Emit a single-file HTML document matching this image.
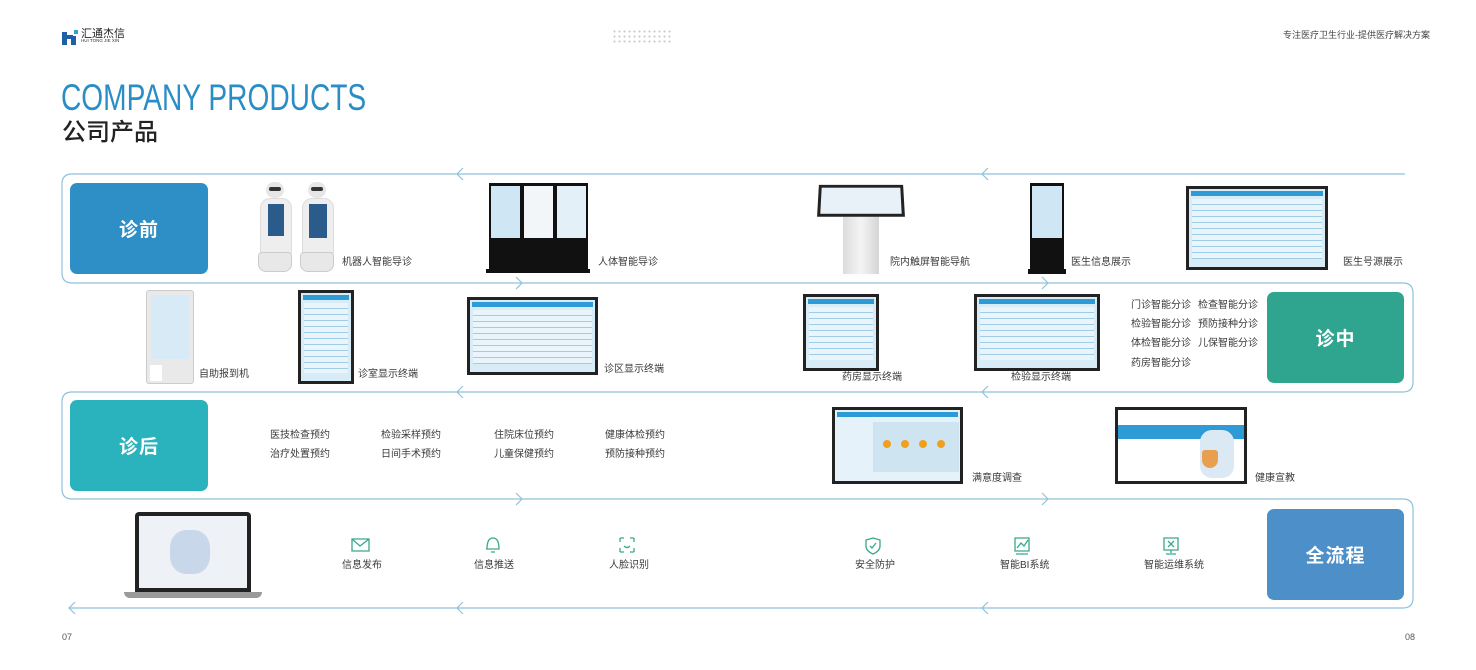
<!DOCTYPE html>
<html><head><meta charset="utf-8">
<style>
*{margin:0;padding:0;box-sizing:border-box}
body{width:1476px;height:670px;background:#fff;position:relative;overflow:hidden;font-family:"Liberation Sans","Noto Sans CJK SC",sans-serif;color:#333}
.a{position:absolute}
.t{position:absolute;font-size:10px;line-height:14px;color:#3a3a3a;white-space:nowrap}
.box{position:absolute;border-radius:7px;color:#fff;font-size:19px;font-weight:bold;display:flex;align-items:center;justify-content:center;letter-spacing:1px}
.scr{position:absolute;border:3px solid #222;background:#d8ecf7}
.scr i{position:absolute;left:2px;right:2px;top:2px;height:5px;background:#2e9ad6;display:block}
.rows{position:absolute;left:3px;right:3px;top:10px;bottom:8px;background:repeating-linear-gradient(#eaf5fb 0 5px,#9fcde8 5px 6px)}
</style></head><body>

<div class="a" style="left:62px;top:30px;width:16px;height:15px">
 <div class="a" style="left:0;top:2px;width:5px;height:13px;background:#1f5fa8"></div>
 <div class="a" style="left:9px;top:6px;width:5px;height:9px;background:#1f5fa8"></div>
 <div class="a" style="left:4px;top:5px;width:7px;height:4px;background:#1f5fa8"></div>
 <div class="a" style="left:12px;top:0;width:4px;height:4px;background:#29a3d8"></div>
</div>
<div class="t" style="left:81px;top:27px;font-size:11px;color:#222">汇通杰信</div>
<div class="t" style="left:81px;top:38px;font-size:4.5px;line-height:6px;color:#333">HUI TONG JIE XIN</div>
<div class="a" style="left:612px;top:29px;width:61px;height:14px;background-image:radial-gradient(circle,#bbb 0.9px,transparent 1.2px);background-size:5px 5px;opacity:.8"></div>
<div class="t" style="left:1283px;top:28px;font-size:9px;color:#444">专注医疗卫生行业-提供医疗解决方案</div>

<div class="t" style="left:61px;top:77px;font-size:37px;line-height:42px;color:#2b8dc5;transform:scaleX(0.76);transform-origin:0 0">COMPANY PRODUCTS</div>
<div class="t" style="left:62px;top:118px;font-size:24px;line-height:30px;color:#222;font-weight:500">公司产品</div>

<svg class="a" style="left:0;top:0" width="1476" height="670">
 <g fill="none" stroke="#8fc2d8" stroke-width="1.2">
  <path d="M1405 174 H72 Q62 174 62 184 V273 Q62 283 72 283 H1403 Q1413 283 1413 293 V382 Q1413 392 1403 392 H72 Q62 392 62 402 V489 Q62 499 72 499 H1403 Q1413 499 1413 509 V598 Q1413 608 1403 608 H70"/>
  <path d="M463 168 L457 174 L463 180 M988 168 L982 174 L988 180"/>
  <path d="M516 277 L522 283 L516 289 M1042 277 L1048 283 L1042 289"/>
  <path d="M463 386 L457 392 L463 398 M988 386 L982 392 L988 398"/>
  <path d="M516 493 L522 499 L516 505 M1042 493 L1048 499 L1042 505"/>
  <path d="M75 602 L69 608 L75 614 M463 602 L457 608 L463 614 M988 602 L982 608 L988 614"/>
 </g>
</svg>

<div class="box" style="left:70px;top:183px;width:138px;height:91px;background:#2e8fc6">诊前</div>
<div class="box" style="left:1267px;top:292px;width:137px;height:91px;background:#2fa58f">诊中</div>
<div class="box" style="left:70px;top:400px;width:138px;height:91px;background:#2ab3bd">诊后</div>
<div class="box" style="left:1267px;top:509px;width:137px;height:91px;background:#4d8fc8">全流程</div>

<div class="a" style="left:258px;top:182px;width:36px;height:92px">
 <div class="a" style="left:8px;top:0;width:18px;height:16px;background:#e6e6e6;border-radius:8px"></div>
 <div class="a" style="left:11px;top:5px;width:12px;height:4px;background:#333;border-radius:2px"></div>
 <div class="a" style="left:2px;top:16px;width:32px;height:56px;background:#eee;border-radius:10px 10px 2px 2px;border:1px solid #ddd"></div>
 <div class="a" style="left:10px;top:22px;width:16px;height:32px;background:#2b5b8a"></div>
 <div class="a" style="left:0;top:70px;width:34px;height:20px;background:#e8e8e8;border-radius:4px 4px 8px 8px;border:1px solid #ccc"></div>
</div>
<div class="a" style="left:300px;top:182px;width:36px;height:92px">
 <div class="a" style="left:8px;top:0;width:18px;height:16px;background:#e6e6e6;border-radius:8px"></div>
 <div class="a" style="left:11px;top:5px;width:12px;height:4px;background:#333;border-radius:2px"></div>
 <div class="a" style="left:2px;top:16px;width:32px;height:56px;background:#eee;border-radius:10px 10px 2px 2px;border:1px solid #ddd"></div>
 <div class="a" style="left:9px;top:22px;width:18px;height:34px;background:#2b5b8a"></div>
 <div class="a" style="left:0;top:70px;width:34px;height:20px;background:#e8e8e8;border-radius:4px 4px 8px 8px;border:1px solid #ccc"></div>
</div>
<div class="t" style="left:342px;top:256px">机器人智能导诊</div>

<div class="a" style="left:489px;top:183px;width:33px;height:90px;background:#111"><div class="a" style="left:2px;top:3px;width:29px;height:52px;background:#cfe6f4"></div></div>
<div class="a" style="left:522px;top:183px;width:33px;height:90px;background:#111"><div class="a" style="left:2px;top:3px;width:29px;height:52px;background:#f2f6f9"></div></div>
<div class="a" style="left:555px;top:183px;width:33px;height:90px;background:#111"><div class="a" style="left:2px;top:3px;width:29px;height:52px;background:#e4f0f8"></div></div>
<div class="a" style="left:486px;top:269px;width:104px;height:4px;background:#111"></div>
<div class="t" style="left:598px;top:256px">人体智能导诊</div>

<div class="a" style="left:843px;top:214px;width:36px;height:60px;background:linear-gradient(90deg,#dcdcdc,#f4f4f4,#d5d5d5)"></div>
<div class="a" style="left:818px;top:184px;width:86px;height:33px;background:#222;transform:perspective(200px) rotateX(15deg)"><div class="a" style="left:3px;top:3px;right:3px;bottom:3px;background:#e9f1f8"></div></div>
<div class="t" style="left:890px;top:256px">院内触屏智能导航</div>

<div class="a" style="left:1030px;top:183px;width:34px;height:90px;background:#111"><div class="a" style="left:2px;top:3px;width:30px;height:52px;background:#cfe6f4"></div></div>
<div class="a" style="left:1028px;top:269px;width:38px;height:5px;background:#111"></div>
<div class="t" style="left:1071px;top:256px">医生信息展示</div>

<div class="scr" style="left:1186px;top:186px;width:142px;height:84px"><i></i><div class="rows"></div></div>
<div class="t" style="left:1343px;top:256px">医生号源展示</div>

<div class="a" style="left:146px;top:290px;width:48px;height:94px;background:#e9e9e9;border:1px solid #ccc;border-radius:3px"><div class="a" style="left:4px;top:4px;width:38px;height:64px;background:#d7eaf6"></div><div class="a" style="left:3px;top:74px;width:12px;height:16px;background:#fff"></div></div>
<div class="t" style="left:199px;top:368px">自助报到机</div>
<div class="scr" style="left:298px;top:290px;width:56px;height:94px"><i></i><div class="rows"></div></div>
<div class="t" style="left:358px;top:368px">诊室显示终端</div>
<div class="scr" style="left:467px;top:297px;width:131px;height:78px"><i></i><div class="rows"></div></div>
<div class="t" style="left:604px;top:363px">诊区显示终端</div>
<div class="scr" style="left:803px;top:294px;width:76px;height:77px"><i></i><div class="rows"></div></div>
<div class="t" style="left:842px;top:371px">药房显示终端</div>
<div class="scr" style="left:974px;top:294px;width:126px;height:77px"><i></i><div class="rows"></div></div>
<div class="t" style="left:1011px;top:371px">检验显示终端</div>

<div class="t" style="left:1131px;top:299px">门诊智能分诊</div>
<div class="t" style="left:1198px;top:299px">检查智能分诊</div>
<div class="t" style="left:1131px;top:318px">检验智能分诊</div>
<div class="t" style="left:1198px;top:318px">预防接种分诊</div>
<div class="t" style="left:1131px;top:337px">体检智能分诊</div>
<div class="t" style="left:1198px;top:337px">儿保智能分诊</div>
<div class="t" style="left:1131px;top:357px">药房智能分诊</div>

<div class="t" style="left:270px;top:429px">医技检查预约</div>
<div class="t" style="left:381px;top:429px">检验采样预约</div>
<div class="t" style="left:494px;top:429px">住院床位预约</div>
<div class="t" style="left:605px;top:429px">健康体检预约</div>
<div class="t" style="left:270px;top:448px">治疗处置预约</div>
<div class="t" style="left:381px;top:448px">日间手术预约</div>
<div class="t" style="left:494px;top:448px">儿童保健预约</div>
<div class="t" style="left:605px;top:448px">预防接种预约</div>

<div class="scr" style="left:832px;top:407px;width:131px;height:77px;background:#e6f2f9"><i></i>
 <div class="a" style="left:38px;top:12px;width:86px;height:50px;background:#cfe4f1"></div>
 <div class="a" style="left:48px;top:30px;width:8px;height:8px;border-radius:50%;background:#f0a020"></div>
 <div class="a" style="left:66px;top:30px;width:8px;height:8px;border-radius:50%;background:#f0a020"></div>
 <div class="a" style="left:84px;top:30px;width:8px;height:8px;border-radius:50%;background:#f0a020"></div>
 <div class="a" style="left:102px;top:30px;width:8px;height:8px;border-radius:50%;background:#f0a020"></div>
</div>
<div class="t" style="left:972px;top:472px">满意度调查</div>
<div class="scr" style="left:1115px;top:407px;width:132px;height:77px;background:#fff">
 <div class="a" style="left:0;right:0;top:15px;height:14px;background:#2e9ad6"></div>
 <div class="a" style="left:82px;top:20px;width:34px;height:48px;background:#dbe9f5;border-radius:12px"></div>
 <div class="a" style="left:84px;top:40px;width:16px;height:18px;background:#e8a050;border-radius:3px 3px 8px 8px"></div>
</div>
<div class="t" style="left:1255px;top:472px">健康宣教</div>

<div class="a" style="left:135px;top:512px;width:116px;height:80px;background:#222;border-radius:4px 4px 0 0"><div class="a" style="left:4px;top:4px;right:4px;bottom:4px;background:#eef2f6"></div><div class="a" style="left:35px;top:18px;width:40px;height:44px;background:#c8d8ea;border-radius:40%"></div></div>
<div class="a" style="left:124px;top:592px;width:138px;height:6px;background:#9a9a9a;border-radius:0 0 6px 6px"></div>

<svg class="a" style="left:0;top:0" width="1476" height="670">
 <g fill="none" stroke="#3aa88c" stroke-width="1.3">
  <path d="M352 539 H369 V551 H352 Z M352 539 L360 546 L369 539"/>
  <path d="M487 549 Q487 538 493 538 Q499 538 499 549 H486 M491 552 H495"/>
  <path d="M620 538 V542 M620 538 H624 M634 538 H630 M634 538 V542 M620 552 V548 M620 552 H624 M634 552 H630 M634 552 V548 M624 546 Q627 549 630 546"/>
  <path d="M873 538 L880 540 V546 Q880 551 873 554 Q866 551 866 546 V540 Z M870 546 L872 548 L876 543"/>
  <path d="M1015 538 H1029 V551 H1015 Z M1017 548 L1021 543 L1024 546 L1028 540 M1016 554 H1028"/>
  <path d="M1164 538 H1178 V550 H1164 Z M1168 541 L1174 547 M1174 541 L1168 547 M1171 550 V553 M1166 554 H1176"/>
 </g>
</svg>
<div class="t" style="left:342px;top:559px">信息发布</div>
<div class="t" style="left:474px;top:559px">信息推送</div>
<div class="t" style="left:609px;top:559px">人脸识别</div>
<div class="t" style="left:855px;top:559px">安全防护</div>
<div class="t" style="left:1000px;top:559px">智能BI系统</div>
<div class="t" style="left:1144px;top:559px">智能运维系统</div>

<div class="t" style="left:62px;top:630px;font-size:9px;color:#555">07</div>
<div class="t" style="left:1405px;top:630px;font-size:9px;color:#555">08</div>
</body></html>
